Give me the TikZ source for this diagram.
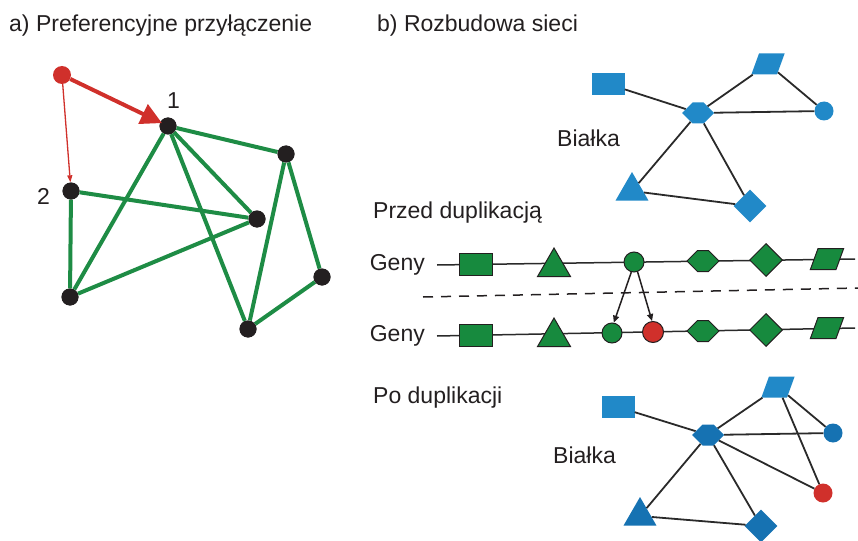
\documentclass[tikz,border=0pt]{standalone}
\usepackage{fontspec}
\setmainfont{Liberation Sans}
\usetikzlibrary{arrows.meta,shapes.geometric,shapes.symbols}
\definecolor{netgreen}{HTML}{1E8C45}
\definecolor{genegreen}{HTML}{178A3E}
\definecolor{protblue}{HTML}{2189C8}
\definecolor{protdeep}{HTML}{1672B2}
\definecolor{dupred}{HTML}{D0302B}
\definecolor{inkdark}{HTML}{231F20}
\definecolor{linkgray}{HTML}{2A2A2A}

\begin{document}
\begin{tikzpicture}[
  x=1pt,
  y=-1pt,
  every node/.style={font=\fontsize{23}{27}\selectfont, text=inkdark},
  caption/.style={anchor=base west, inner sep=0pt},
  hub/.style={circle, fill=inkdark, inner sep=0pt, minimum size=17pt},
  newpt/.style={circle, fill=dupred, inner sep=0pt, minimum size=18pt},
  netedge/.style={netgreen, line width=4pt},
  attach/.style={dupred, line width=4pt, shorten >=-2pt,
                 -{Triangle[length=21pt, width=21pt]}},
  attachthin/.style={dupred, line width=1.3pt,
                     -{Triangle[length=7pt, width=5pt]}},
  geneline/.style={linkgray, line width=1.5pt},
  plink/.style={linkgray, line width=1.8pt},
  cut/.style={inkdark, line width=1.5pt, dash pattern=on 10pt off 8pt},
  duparrow/.style={inkdark, line width=1.5pt,
                   -{Triangle[length=7pt, width=6pt]}},
  % ---- shapes shared by genes and proteins ----
  sqshape/.style={rectangle, inner sep=0pt, minimum width=33pt, minimum height=22pt},
  trishape/.style={regular polygon, regular polygon sides=3, inner sep=0pt,
                   minimum size=38pt},
  hexshape/.style={signal, signal to=east and west, inner sep=0pt,
                   minimum width=32pt, minimum height=21pt},
  diashape/.style={diamond, inner sep=0pt, minimum width=33pt, minimum height=33pt},
  parshape/.style={trapezium, trapezium left angle=70, trapezium right angle=110,
                   inner xsep=9pt, inner ysep=10.5pt},
  dotshape/.style={circle, inner sep=0pt, minimum size=20pt},
  gene/.style={draw=inkdark, line width=1pt, fill=genegreen},
  prot/.style={fill=protblue},
  protd/.style={fill=protdeep}
]
  \useasboundingbox (0,0) rectangle (858,540);

  % ---- titles ----
  \node[caption] (titleA) at (9,32) {a) Preferencyjne przyłączenie};
  \node[caption] (titleB) at (377,32) {b) Rozbudowa sieci};

  % ---- a) network ----
  \node[newpt] (nnew) at (62,75) {};
  \node[hub] (n1) at (168,126) {};
  \node[hub] (n2) at (71,191) {};
  \node[hub] (nA) at (286,154) {};
  \node[hub] (nB) at (257,219) {};
  \node[hub] (nC) at (322,277) {};
  \node[hub] (nD) at (70,297) {};
  \node[hub] (nE) at (248,329) {};
  \node[caption] (lab1) at (167,109) {1};
  \node[caption] (lab2) at (37,204) {2};

  \foreach \a/\b in {n1/nA, n1/nD, n1/nE, n1/nB, nA/nE, nA/nC,
                     nC/nE, n2/nB, n2/nD, nD/nB}
    \draw[netedge] (\a) -- (\b);
  \foreach \n in {n1,n2,nA,nB,nC,nD,nE}
    \node[hub] at (\n) {};

  \draw[attach] (nnew) -- (n1);
  \draw[attachthin] (nnew) -- (n2);

  % ---- b) proteins before ----
  \node[caption] (protA) at (557,147) {Białka};
  \node[sqshape, prot] (sqT) at (608,84) {};
  \node[hexshape, prot] (hexT) at (698,113) {};
  \node[parshape, prot] (parT) at (768,64) {};
  \node[dotshape, prot, minimum size=19pt] (cirT) at (824,111) {};
  \node[trishape, prot] (triT) at (632,191) {};
  \node[diashape, prot] (diaT) at (750,206) {};
  \foreach \a/\b in {sqT/hexT, hexT/parT, hexT/cirT, parT/cirT,
                     hexT/triT, hexT/diaT, triT/diaT}
    \draw[plink] (\a) -- (\b);

  % ---- genes before duplication ----
  \node[caption] (before) at (373,218) {Przed duplikacją};
  \node[anchor=east, inner xsep=12pt, inner ysep=0pt] (geny1) at (437,265) {Geny};
  \coordinate (end1) at (855,259);
  \draw[geneline] (geny1.east) -- (end1);
  \node[sqshape, gene] (gsq1) at (476,264) {};
  \node[trishape, gene] (gtri1) at (554,267) {};
  \node[dotshape, gene] (gcir1) at (634,262) {};
  \node[hexshape, gene] (ghex1) at (703,261) {};
  \node[diashape, gene] (gdia1) at (766,260) {};
  \node[parshape, gene] (gpar1) at (827,259) {};

  % ---- duplication cut ----
  \coordinate (cutL) at (423,297);
  \coordinate (cutR) at (858,288);
  \draw[cut] (cutL) -- (cutR);

  % ---- genes after duplication ----
  \node[anchor=east, inner xsep=12pt, inner ysep=0pt] (geny2) at (437,336) {Geny};
  \coordinate (end2) at (855,328);
  \draw[geneline] (geny2.east) -- (end2);
  \node[sqshape, gene] (gsq2) at (476,335) {};
  \node[trishape, gene] (gtri2) at (554,337) {};
  \node[dotshape, gene] (gcopy) at (612,333) {};
  \node[dotshape, gene, fill=dupred, minimum size=21pt] (gnew) at (653,332) {};
  \node[hexshape, gene] (ghex2) at (703,331) {};
  \node[diashape, gene] (gdia2) at (766,330) {};
  \node[parshape, gene] (gpar2) at (827,328) {};

  \draw[duparrow] (gcir1.-105) -- (gcopy.80);
  \draw[duparrow] (gcir1.-70) -- (gnew.95);

  % ---- b) proteins after ----
  \node[caption] (after) at (373,403) {Po duplikacji};
  \node[caption] (protB) at (553,463) {Białka};
  \node[sqshape, prot] (sqB) at (618,407) {};
  \node[hexshape, protd] (hexB) at (708,435) {};
  \node[parshape, prot] (parB) at (778,387) {};
  \node[dotshape, protd, minimum size=19pt] (cirB) at (833,433) {};
  \node[dotshape, fill=dupred, minimum size=19pt] (redB) at (823,493) {};
  \node[trishape, protd] (triB) at (640,516) {};
  \node[diashape, protd] (diaB) at (761,526) {};
  \foreach \a/\b in {sqB/hexB, hexB/parB, hexB/cirB, parB/cirB, parB/redB,
                     hexB/redB, hexB/triB, hexB/diaB, triB/diaB}
    \draw[plink] (\a) -- (\b);
\end{tikzpicture}
\end{document}
